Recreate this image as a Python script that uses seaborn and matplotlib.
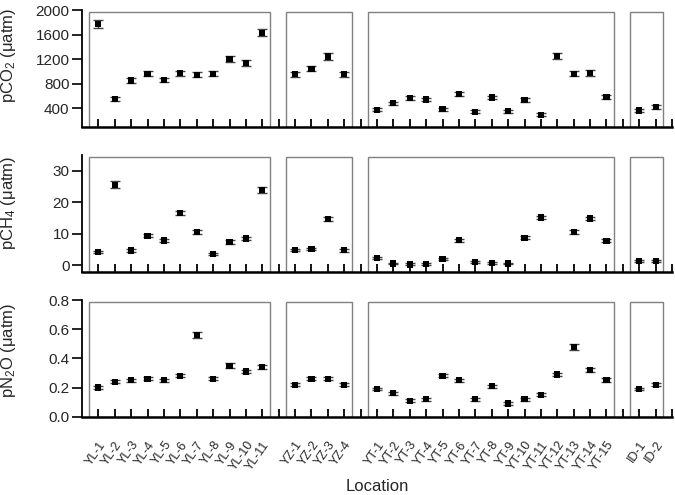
import numpy as np
import pandas as pd
import matplotlib
matplotlib.use("Agg")
import matplotlib.pyplot as plt
from matplotlib.patches import Rectangle
import seaborn as sns

# ---- data ----
groups = ["YL", "YZ", "YT", "ID"]
group_sizes = [11, 4, 15, 2]
locations = ([f"YL-{i}" for i in range(1, 12)] + [f"YZ-{i}" for i in range(1, 5)]
             + [f"YT-{i}" for i in range(1, 16)] + [f"ID-{i}" for i in range(1, 3)])

pco2 = [1770, 550, 850, 960, 860, 970, 940, 960, 1200, 1130, 1630,
        950, 1040, 1240, 950,
        370, 480, 560, 540, 380, 630, 340, 570, 350, 530, 290, 1250, 960, 970, 580,
        360, 420]
pco2_err = [70, 30, 35, 40, 35, 40, 40, 40, 50, 50, 60,
            40, 40, 50, 40,
            25, 25, 30, 30, 25, 35, 25, 30, 25, 30, 25, 50, 45, 45, 30,
            25, 30]

pch4 = [4.2, 25.6, 4.7, 9.4, 7.9, 16.6, 10.6, 3.6, 7.4, 8.5, 23.9,
        4.9, 5.2, 14.8, 4.8,
        2.3, 0.6, 0.3, 0.4, 2.1, 8.0, 1.0, 0.85, 0.6, 8.8, 15.2, np.nan, 10.6, 14.9, 7.8,
        1.4, 1.4]
pch4_err = [0.4, 1.0, 0.4, 0.5, 0.5, 0.6, 0.5, 0.4, 0.5, 0.5, 0.9,
            0.4, 0.4, 0.6, 0.4,
            0.4, 0.3, 0.3, 0.3, 0.4, 0.5, 0.3, 0.3, 0.3, 0.5, 0.6, np.nan, 0.5, 0.6, 0.5,
            0.3, 0.3]

pn2o = [0.20, 0.24, 0.25, 0.26, 0.25, 0.28, 0.56, 0.26, 0.35, 0.31, 0.34,
        0.22, 0.26, 0.26, 0.22,
        0.19, 0.16, 0.11, 0.12, 0.28, 0.25, 0.12, 0.21, 0.09, 0.12, 0.15, 0.29, 0.48, 0.32, 0.25,
        0.19, 0.22]
pn2o_err = [0.01, 0.01, 0.01, 0.01, 0.01, 0.01, 0.02, 0.01, 0.015, 0.01, 0.015,
            0.01, 0.01, 0.01, 0.01,
            0.01, 0.01, 0.01, 0.01, 0.01, 0.01, 0.01, 0.01, 0.01, 0.01, 0.01, 0.012, 0.02, 0.012, 0.012,
            0.01, 0.01]

ylabels = [r"pCO$_2$ ($\mathregular{\mu}$atm)", r"pCH$_4$ ($\mathregular{\mu}$atm)",
           r"pN$_2$O ($\mathregular{\mu}$atm)"]
yticks_list = [[400, 800, 1200, 1600, 2000], [0, 10, 20, 30], [0.0, 0.2, 0.4, 0.6, 0.8]]
ytick_labels = [["400", "800", "1200", "1600", "2000"], ["0", "10", "20", "30"],
                ["0.0", "0.2", "0.4", "0.6", "0.8"]]
ylims = [(90, 2000), (-2, 35), (0, 0.8)]
box_tops = [1962, 34.3, 0.786]

# ---- positions (with one empty slot between groups) ----
pos = []
cur = 0
group_ranges = []
for gi, n in enumerate(group_sizes):
    start = cur
    pos.extend(range(cur, cur + n))
    cur += n
    group_ranges.append((start, cur - 1))
    cur += 1
all_ticks = list(range(0, cur))
tick_labels = []
for t in all_ticks:
    if t in pos:
        tick_labels.append(locations[pos.index(t)])
    else:
        tick_labels.append("")

sns.set_theme(style="ticks")
plt.rcParams["font.family"] = ["Liberation Sans", "DejaVu Sans"]
plt.rcParams["mathtext.fontset"] = "custom"
plt.rcParams["mathtext.rm"] = "Liberation Sans"
plt.rcParams["mathtext.it"] = "Liberation Sans"
plt.rcParams["mathtext.default"] = "regular"

fig = plt.figure(figsize=(6.75, 4.95), dpi=100)
W, H = 675, 495
left_px, right_px = 82, 672
rows_px = [(10, 127), (155, 271.7), (300, 416.7)]
label_y = [0.615, 0.59, 0.57]

series = [(pco2, pco2_err), (pch4, pch4_err), (pn2o, pn2o_err)]

for r, ((top, bot), (vals, errs)) in enumerate(zip(rows_px, series)):
    ax = fig.add_axes([left_px / W, 1 - bot / H, (right_px - left_px) / W, (bot - top) / H])
    df = pd.DataFrame({"pos": pos, "val": vals, "err": errs})
    ax.errorbar(df["pos"], df["val"], yerr=df["err"], fmt="none", ecolor="#444444",
                elinewidth=1.0, capsize=3.5, capthick=1.0, zorder=2)
    sns.scatterplot(data=df, x="pos", y="val", marker="s", color="black", s=20,
                    edgecolor="none", ax=ax, zorder=3, legend=False)
    ax.set_xlim(-1, cur - 1)
    ax.set_ylim(*ylims[r])
    for (s, e) in group_ranges:
        ax.add_patch(Rectangle((s - 0.55, ylims[r][0]), (e - s) + 1.0, box_tops[r] - ylims[r][0],
                               fill=False, edgecolor="#808080", lw=1.0, zorder=1))
    ax.set_yticks(yticks_list[r])
    ax.set_yticklabels(ytick_labels[r])
    ax.set_xticks(all_ticks)
    if r == 2:
        ax.set_xticklabels(tick_labels, rotation=55, ha="right", va="top",
                           rotation_mode="anchor", fontsize=9)
        ax.tick_params(axis="x", pad=16)
        ax.set_xlabel("Location", fontsize=12)
        ax.xaxis.set_label_coords(0.5, -0.53)
    else:
        ax.set_xticklabels([])
        ax.set_xlabel("")
    ax.set_ylabel(ylabels[r], fontsize=12)
    ax.yaxis.set_label_coords(-0.109, label_y[r])
    ax.tick_params(axis="x", direction="in", length=6, width=1.3, color="black")
    ax.tick_params(axis="y", direction="out", length=7, width=1.2, color="black",
                   labelsize=11, pad=2)
    for side in ["top", "right"]:
        ax.spines[side].set_visible(False)
    ax.spines["left"].set_color("black")
    ax.spines["left"].set_linewidth(1.3)
    ax.spines["bottom"].set_color("black")
    ax.spines["bottom"].set_linewidth(1.8)
    ax.patch.set_alpha(0)

fig.savefig("out.png", dpi=100)
